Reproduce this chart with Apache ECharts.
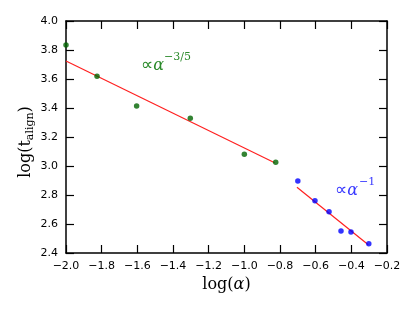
<!DOCTYPE html>
<html><head><meta charset="utf-8">
<script src="https://cdn.jsdelivr.net/npm/echarts@6/dist/echarts.min.js"></script>
<style>html,body{margin:0;padding:0;background:#fff}#c{width:415px;height:312px}</style>
</head><body><div id="c"></div>
<script>
const greenX = [-2.0, -1.826, -1.604, -1.303, -1.0, -0.824];
const greenY = [3.834, 3.619, 3.414, 3.329, 3.081, 3.026];
const blueX = [-0.700, -0.604, -0.525, -0.458, -0.402, -0.302];
const blueY = [2.897, 2.761, 2.685, 2.552, 2.545, 2.464];
const fit1X = [-2.0, -0.83];
const fit1Y = [3.724, 3.022];
const fit2X = [-0.705, -0.305];
const fit2Y = [2.853, 2.457];
const xTicks = {min: -2.0, max: -0.2, interval: 0.2};
const yTicks = {min: 2.4, max: 4.0, interval: 0.2};

const zip = (a, b) => a.map((v, i) => [v, b[i]]);
const fmt = v => v.toFixed(1).replace('-', '\u2212');
const chart = echarts.init(document.getElementById('c'), null, {renderer: 'canvas'});
const tickFont = {fontFamily: 'DejaVu Sans', fontSize: 11, color: '#000'};
const axLine = {show: true, lineStyle: {color: '#000', width: 1.5}};
const tick = {show: true, inside: true, length: 8, lineStyle: {color: '#000', width: 1.2}};
chart.setOption({
  animation: false,
  grid: {left: 66, top: 21, right: 28, bottom: 59, containLabel: false},
  xAxis: [
    {type: 'value', ...xTicks, position: 'bottom', axisLine: axLine, axisTick: tick, splitLine: {show: false},
     axisLabel: {...tickFont, margin: 8, formatter: fmt},
     name: '{a|log(}{i|\u03b1}{a|)}', nameLocation: 'middle', nameGap: 24,
     nameTextStyle: {rich: {a: {fontFamily: 'DejaVu Serif', fontSize: 16, color: '#000'}, i: {fontFamily: 'DejaVu Serif', fontStyle: 'italic', fontSize: 16, color: '#000'}}}},
    {type: 'value', ...xTicks, position: 'top', axisLine: axLine, axisTick: tick, splitLine: {show: false}, axisLabel: {show: false}}
  ],
  yAxis: [
    {type: 'value', ...yTicks, position: 'left', axisLine: axLine, axisTick: tick, splitLine: {show: false},
     axisLabel: {...tickFont, margin: 8, formatter: fmt},
     name: '{a|log(t}{s|align}{a|)}', nameLocation: 'middle', nameGap: 30, nameMoveOverlap: false,
     nameTextStyle: {padding: [0, 10, 0, 0], rich: {a: {fontFamily: 'DejaVu Serif', fontSize: 16, color: '#000'}, s: {fontFamily: 'DejaVu Serif', fontSize: 11, color: '#000', padding: [9, 0, 0, 0]}}}},
    {type: 'value', ...yTicks, position: 'right', axisLine: axLine, axisTick: tick, splitLine: {show: false}, axisLabel: {show: false}}
  ],
  series: [
    {type: 'line', data: zip(fit1X, fit1Y), symbol: 'none', lineStyle: {color: '#ff2020', width: 1.2}, z: 2},
    {type: 'line', data: zip(fit2X, fit2Y), symbol: 'none', lineStyle: {color: '#ff2020', width: 1.2}, z: 2},
    {type: 'scatter', data: zip(greenX, greenY), symbolSize: 5.5, itemStyle: {color: '#006400'}, z: 3, clip: true},
    {type: 'scatter', data: zip(blueX, blueY), symbolSize: 5.5, itemStyle: {color: '#0000ff'}, z: 3, clip: true}
  ],
  graphic: [
    {type: 'text', left: 141, top: 57, style: {text: '{n|\u221d}{i|\u03b1}', rich: {n: {fontFamily: 'DejaVu Sans', fontSize: 17, fill: '#2a8a2a'}, i: {fontFamily: 'DejaVu Serif', fontStyle: 'italic', fontSize: 16, fill: '#2a8a2a'}}}},
    {type: 'text', left: 164, top: 52, style: {text: '\u22123/5', fontFamily: 'DejaVu Serif', fontSize: 11, fill: '#2a8a2a'}},
    {type: 'text', left: 335, top: 182, style: {text: '{n|\u221d}{i|\u03b1}', rich: {n: {fontFamily: 'DejaVu Sans', fontSize: 17, fill: '#3a3aff'}, i: {fontFamily: 'DejaVu Serif', fontStyle: 'italic', fontSize: 16, fill: '#3a3aff'}}}},
    {type: 'text', left: 359, top: 177, style: {text: '\u22121', fontFamily: 'DejaVu Serif', fontSize: 11, fill: '#3a3aff'}}
  ]
});
</script></body></html>
